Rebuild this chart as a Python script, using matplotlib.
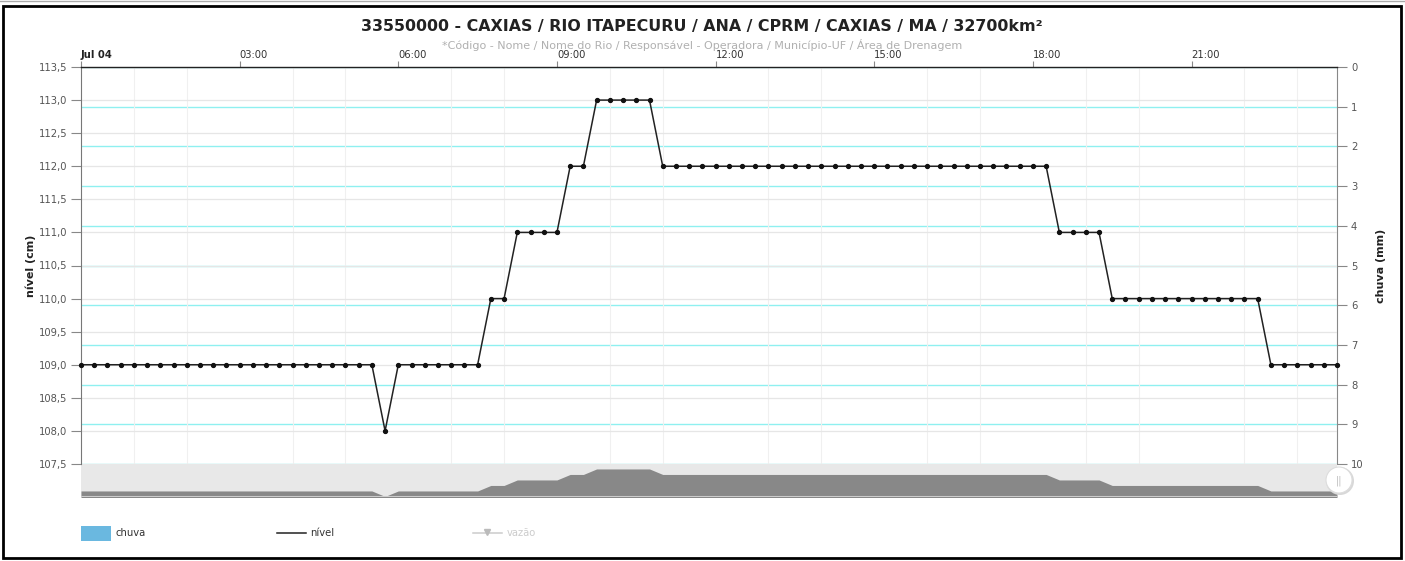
import matplotlib
matplotlib.use("Agg")
import matplotlib.pyplot as plt
import matplotlib.dates as mdates
import pandas as pd
from matplotlib.patches import Rectangle, Ellipse
from matplotlib.lines import Line2D

W, H = 1405, 561

# nível (cm), one reading every 15 minutes on Jul 04
times = pd.date_range("2019-07-04 00:00", periods=96, freq="15min")
nivel = [
    109, 109, 109, 109, 109, 109, 109, 109, 109, 109, 109, 109,
    109, 109, 109, 109, 109, 109, 109, 109, 109, 109, 109, 108,
    109, 109, 109, 109, 109, 109, 109, 110, 110, 111, 111, 111,
    111, 112, 112, 113, 113, 113, 113, 113, 112, 112, 112, 112,
    112, 112, 112, 112, 112, 112, 112, 112, 112, 112, 112, 112,
    112, 112, 112, 112, 112, 112, 112, 112, 112, 112, 112, 112,
    112, 112, 111, 111, 111, 111, 110, 110, 110, 110, 110, 110,
    110, 110, 110, 110, 110, 110, 109, 109, 109, 109, 109, 109,
]
left_ticks = [107.5, 108.0, 108.5, 109.0, 109.5, 110.0, 110.5, 111.0,
              111.5, 112.0, 112.5, 113.0, 113.5]
right_ticks = [0, 1, 2, 3, 4, 5, 6, 7, 8, 9, 10]
hour_labels = ["Jul 04", "03:00", "06:00", "09:00", "12:00", "15:00", "18:00", "21:00"]

TITLE = "33550000 - CAXIAS / RIO ITAPECURU / ANA / CPRM / CAXIAS / MA / 32700km²"
SUBTITLE = "*Código - Nome / Nome do Rio / Responsável - Operadora / Município-UF / Área de Drenagem"

FONT = "DejaVu Sans"
TICK_C = "#555555"
AXIS_C = "#888888"


def fx(px):
    return px / W


def fy(py):
    return 1 - py / H


fig = plt.figure(figsize=(W / 100, H / 100), dpi=100)
fig.patch.set_facecolor("white")

# ---- main chart
ax = fig.add_axes([fx(81), fy(464), fx(1337) - fx(81), fy(67) - fy(464)])
ax2 = ax.twinx()

x0 = mdates.date2num(times[0].to_pydatetime())
x1 = mdates.date2num(pd.Timestamp("2019-07-04 23:45").to_pydatetime())
ax.set_xlim(x0, x1)
ax.set_ylim(107.5, 113.5)
ax2.set_ylim(10, 0)

# vertical hourly grid (faint)
ax.xaxis.set_minor_locator(mdates.HourLocator(interval=1))
ax.grid(True, which="minor", axis="x", color="#f0f0f0", lw=0.8, zorder=0)
ax.grid(True, which="major", axis="y", color="#e6e6e6", lw=0.9, zorder=0)
ax2.grid(True, axis="y", color="#8ff0f0", lw=1.0, zorder=0)

ax.set_yticks(left_ticks)
ax.set_yticklabels([f"{v:.1f}".replace(".", ",") for v in left_ticks])
ax2.set_yticks(right_ticks)
ax2.set_yticklabels([str(v) for v in right_ticks])

major = pd.date_range("2019-07-04 00:00", periods=8, freq="3h")
ax.set_xticks([mdates.date2num(t.to_pydatetime()) for t in major])
ax.set_xticklabels(hour_labels)
ax.xaxis.tick_top()
ax.tick_params(axis="x", which="major", top=True, bottom=False, length=4, width=0.8,
               color=AXIS_C, labelsize=7.2, labelcolor="#333333", pad=1)
ax.tick_params(axis="x", which="minor", top=False, bottom=False)
for i, lab in enumerate(ax.get_xticklabels()):
    lab.set_horizontalalignment("left")
    lab.set_fontfamily(FONT)
    if i == 0:
        lab.set_fontweight("bold")
        lab.set_color("#222222")

ax.tick_params(axis="y", length=7, width=0.8, color=AXIS_C, labelsize=7.2,
               labelcolor=TICK_C, pad=3)
ax2.tick_params(axis="y", length=7, width=0.8, color=AXIS_C, labelsize=7.2,
                labelcolor=TICK_C, pad=3)

for s in ("bottom",):
    ax.spines[s].set_visible(False)
    ax2.spines[s].set_visible(False)
ax.spines["top"].set_color("#222222")
ax.spines["top"].set_linewidth(1.0)
ax.spines["left"].set_color("#777777")
ax2.spines["right"].set_color(AXIS_C)
ax2.spines["top"].set_visible(False)
ax2.spines["left"].set_visible(False)
ax.spines["right"].set_visible(False)

ax.set_ylabel("nível (cm)", fontsize=8, fontweight="bold", color="#222222",
              family=FONT, labelpad=2)
ax2.set_ylabel("chuva (mm)", fontsize=8, fontweight="bold", color="#222222",
               family=FONT, labelpad=9)

ax.set_zorder(ax2.get_zorder() + 1)
ax.patch.set_visible(False)
ax.plot(times, nivel, color="#222222", lw=1.1, marker="o", ms=2.8,
        mfc="#111111", mec="#111111", zorder=5, clip_on=False)

# ---- navigator
nav = fig.add_axes([fx(81), fy(497), fx(1337) - fx(81), fy(464) - fy(497)])
nav.set_facecolor("#e8e8e8")
nav.set_xlim(x0, x1)
nav.set_ylim(107.9, 113.9)
nav.fill_between(times, 100, nivel, color="#888888", lw=0, zorder=2)
nav.set_xticks([])
nav.set_yticks([])
for s in nav.spines.values():
    s.set_visible(False)
nav.axhline(107.9, color="#cccccc", lw=1.5, zorder=3)

# scroll handle
fig.add_artist(Ellipse((fx(1340), fy(481)), 28 / W, 28 / H, facecolor="#d8d8d8",
                       edgecolor="none", zorder=9))
fig.add_artist(Ellipse((fx(1339), fy(480)), 26 / W, 26 / H, facecolor="white",
                       edgecolor="#dddddd", lw=0.8, zorder=10))
fig.text(fx(1339), fy(481), "||", ha="center", va="center", fontsize=7,
         color="#bbbbbb", zorder=11, family=FONT)

# ---- titles
fig.text(fx(702), fy(27), TITLE, ha="center", va="center", fontsize=11.4,
         fontweight="bold", color="#222222", family=FONT)
fig.text(fx(702), fy(45), SUBTITLE, ha="center", va="center", fontsize=8,
         color="#b0b0b0", family=FONT)

# ---- legend
fig.add_artist(Rectangle((fx(81), fy(541)), 30 / W, 15 / H, facecolor="#6ab8e0",
                         edgecolor="none"))
fig.text(fx(115), fy(533), "chuva", ha="left", va="center", fontsize=7.2,
         color="#333333", family=FONT)
fig.add_artist(Line2D([fx(277), fx(306)], [fy(533), fy(533)], color="#222222", lw=1.1))
fig.text(fx(310), fy(533), "nível", ha="left", va="center", fontsize=7.2,
         color="#333333", family=FONT)
fig.add_artist(Line2D([fx(473), fx(502)], [fy(533), fy(533)], color="#cccccc", lw=1.1))
fig.add_artist(Line2D([fx(487)], [fy(532)], color="#bbbbbb", marker="v", ms=5, lw=0))
fig.text(fx(507), fy(533), "vazão", ha="left", va="center", fontsize=7.2,
         color="#cccccc", family=FONT)

# ---- frame
fig.add_artist(Line2D([0, 1], [fy(1), fy(1)], color="#aaaaaa", lw=1))
fig.add_artist(Rectangle((fx(3), fy(558)), fx(1401) - fx(3), fy(6) - fy(558),
                         facecolor="none", edgecolor="black", lw=2))

fig.savefig("out.png", dpi=100)
